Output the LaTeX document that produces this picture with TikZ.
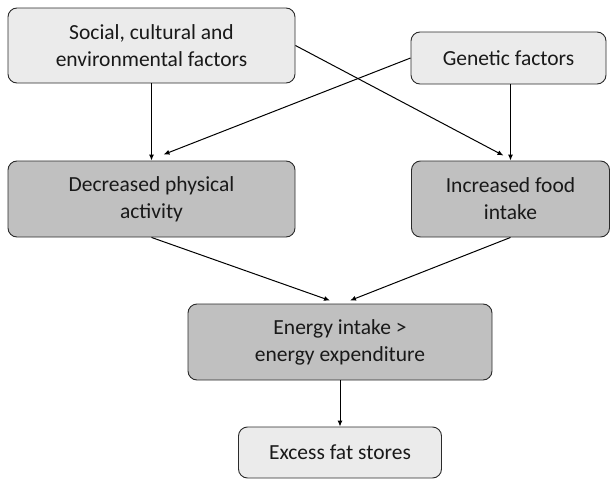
\documentclass[tikz,border=0pt]{standalone}
\usepackage{fontspec}
\setmainfont{Carlito}
\usepackage{xcolor}
\definecolor{boxlight}{HTML}{EBEBEB}
\definecolor{boxdark}{HTML}{C0C0C0}
\definecolor{boxline}{HTML}{2B2B2B}
\usepackage{tikz}
\usetikzlibrary{arrows.meta,positioning,calc}

\tikzset{
  factor/.style={draw=boxline,line width=0.9pt,rounded corners=9pt,align=center,
    font=\fontsize{21.5}{27}\selectfont,text=black!90,inner sep=2pt},
  lightbox/.style={factor,fill=boxlight},
  darkbox/.style={factor,fill=boxdark},
  link/.style={-{Latex[length=6pt,width=5pt]},line width=1pt,black}
}

\begin{document}
\begin{tikzpicture}[x=1pt,y=-1pt]
\useasboundingbox (0,0) rectangle (611,479);
\node[lightbox,minimum width=287pt,minimum height=75pt] (social) at (151.5,45.5) {Social, cultural and\\environmental factors};
\node[lightbox,minimum width=195pt,minimum height=52pt] (genetic) at (508.5,58) {Genetic factors};
\node[darkbox,minimum width=287pt,minimum height=76pt] (decr) at (151.5,199) {Decreased physical\\activity};
\node[darkbox,minimum width=198pt,minimum height=76pt] (incr) at (510.5,199) {Increased food\\intake};
\node[darkbox,minimum width=304pt,minimum height=76pt] (energy) at (340,342) {Energy intake >\\energy expenditure};
\node[lightbox,minimum width=203pt,minimum height=51pt] (fat) at (340,452.5) {Excess fat stores};
% causes
\draw[link] (social.south) -- (decr.north);
\draw[link] (genetic.west) -- ([xshift=12pt,yshift=6pt]decr.north);
\draw[link] (social.east) -- ([xshift=-7pt,yshift=5pt]incr.north);
\draw[link] (genetic.south -| incr.north) -- (incr.north);
% to balance
\draw[link] (decr.south) -- ([xshift=-10pt,yshift=3pt]energy.north);
\draw[link] (incr.south) -- ([xshift=10pt,yshift=3pt]energy.north);
\draw[link] (energy.south) -- (fat.north);
\end{tikzpicture}
\end{document}
